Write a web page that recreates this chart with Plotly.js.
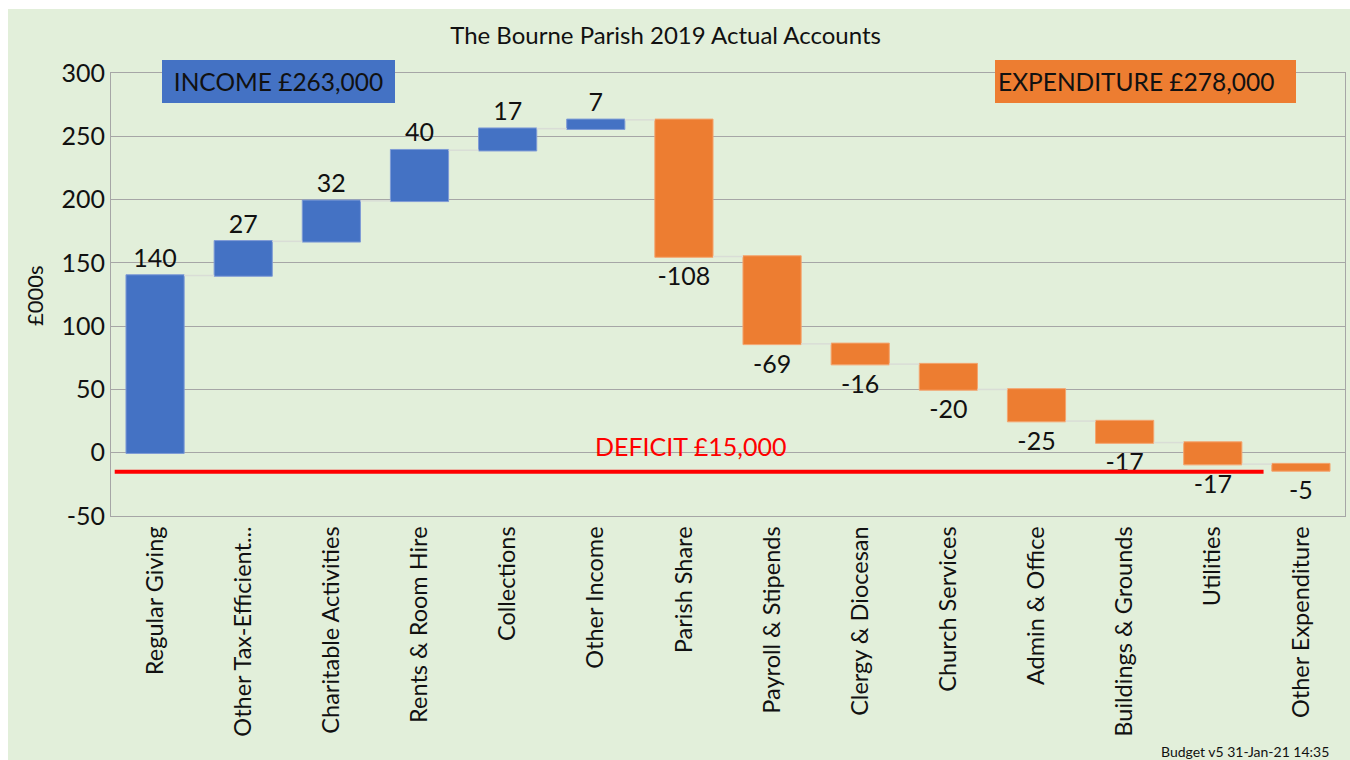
<!DOCTYPE html>
<html>
<head>
<meta charset="utf-8">
<script src="https://cdn.plot.ly/plotly-3.0.1.min.js"></script>
<style>
  html, body { margin: 0; padding: 0; background: #ffffff; width: 1350px; height: 760px; overflow: hidden; }
  #chart { position: absolute; left: 8px; top: 9px; width: 1342px; height: 751px; }
</style>
</head>
<body>
<div id="chart"></div>
<script>
// ---- data ----
const categories = [
  "Regular Giving", "Other Tax-Efficient...", "Charitable Activities", "Rents & Room Hire",
  "Collections", "Other Income", "Parish Share", "Payroll & Stipends", "Clergy & Diocesan",
  "Church Services", "Admin & Office", "Buildings & Grounds", "Utilities", "Other Expenditure"
];
const values = [140, 27, 32, 40, 17, 7, -108, -69, -16, -20, -25, -17, -17, -5];
const valueLabels = ["140", "27", "32", "40", "17", "7", "-108", "-69", "-16", "-20", "-25", "-17", "-17", "-5"];
const titleText = "The Bourne Parish 2019 Actual Accounts";
const incomeText = "INCOME £263,000";
const expenditureText = "EXPENDITURE £278,000";
const deficitText = "DEFICIT £15,000";
const deficitLevel = -15;
const footerText = "Budget v5 31-Jan-21 14:35";
const yTickVals = [-50, 0, 50, 100, 150, 200, 250, 300];

const FONT = "Lato, 'Open Sans', sans-serif";
const BLUE = "#4472C4";
const ORANGE = "#ED7D31";
const GREEN_BG = "#E2EFDA";
const GRID = "#A6A6A6";

const trace = {
  type: "waterfall",
  x: categories,
  y: values,
  measure: categories.map(() => "relative"),
  text: valueLabels,
  textposition: "outside",
  textfont: { family: FONT, size: 25, color: "#111111" },
  constraintext: "none",
  cliponaxis: false,
  increasing: { marker: { color: BLUE, line: { color: "#7F9BD6", width: 1 } } },
  decreasing: { marker: { color: ORANGE, line: { color: "#F4A46E", width: 1 } } },
  connector: { mode: "between", line: { color: "#D9DDD6", width: 1.5 } },
  hoverinfo: "skip",
  showlegend: false
};

const layout = {
  width: 1342,
  height: 751,
  paper_bgcolor: GREEN_BG,
  plot_bgcolor: GREEN_BG,
  margin: { l: 103, r: 5, t: 64, b: 244 },
  waterfallgap: 0.34,
  font: { family: FONT, color: "#111111" },
  title: {
    text: titleText,
    font: { family: FONT, size: 24, color: "#111111" },
    x: 0.49, xanchor: "center",
    y: 0.965, yanchor: "middle"
  },
  xaxis: {
    type: "category",
    tickangle: -90,
    tickfont: { family: FONT, size: 23.5, color: "#111111" },
    showline: true, mirror: true, linecolor: GRID, linewidth: 1,
    ticks: "", showgrid: false,
    automargin: false
  },
  yaxis: {
    range: [-50, 300],
    tickvals: yTickVals,
    ticktext: yTickVals.map(String),
    tickfont: { family: FONT, size: 25, color: "#111111" },
    showgrid: true, gridcolor: GRID, gridwidth: 1,
    zeroline: false,
    showline: true, mirror: true, linecolor: GRID, linewidth: 1,
    ticks: "", ticklen: 0,
    automargin: false
  },
  shapes: [
    {
      type: "line", xref: "paper", yref: "y",
      x0: 0.003, x1: 0.934, y0: deficitLevel, y1: deficitLevel,
      line: { color: "#FF0000", width: 4 },
      layer: "above"
    }
  ],
  annotations: [
    {
      text: incomeText, xref: "paper", yref: "paper",
      x: 0.1357, y: 0.9808, xanchor: "center", yanchor: "middle",
      showarrow: false, bgcolor: BLUE, bordercolor: BLUE, borderwidth: 1, borderpad: 2,
      width: 227, height: 37, align: "center",
      font: { family: FONT, size: 24.5, color: "#111111" }
    },
    {
      text: expenditureText, xref: "paper", yref: "paper",
      x: 0.8383, y: 0.9808, xanchor: "center", yanchor: "middle",
      showarrow: false, bgcolor: ORANGE, bordercolor: ORANGE, borderwidth: 1, borderpad: 2,
      width: 295, height: 37, align: "left",
      font: { family: FONT, size: 24.5, color: "#111111" }
    },
    {
      text: deficitText, xref: "paper", yref: "y",
      x: (690 - 111) / 1234, y: 5, xanchor: "center", yanchor: "middle",
      showarrow: false,
      font: { family: FONT, size: 25, color: "#FF0000" }
    },
    {
      text: "£000s", xref: "paper", yref: "paper",
      x: -0.0616, y: 0.499, xanchor: "center", yanchor: "middle",
      textangle: -90, showarrow: false,
      font: { family: FONT, size: 22, color: "#111111" }
    },
    {
      text: footerText, xref: "paper", yref: "paper",
      x: 0.9887, y: -0.5305, xanchor: "right", yanchor: "middle",
      showarrow: false,
      font: { family: FONT, size: 14, color: "#111111" }
    }
  ]
};

Plotly.newPlot("chart", [trace], layout, { displayModeBar: false, staticPlot: true });
</script>
</body>
</html>
